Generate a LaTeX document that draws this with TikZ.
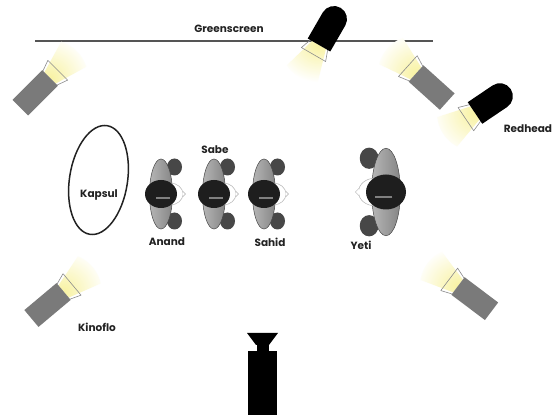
\documentclass[tikz,border=0pt]{standalone}
\usepackage{fontspec}
\setmainfont{Poppins}
\definecolor{Ink}{HTML}{222222}
\definecolor{Screen}{HTML}{555555}
\definecolor{Kino}{HTML}{7A7A7A}
\definecolor{Glow}{HTML}{F8F2A2}
\definecolor{Door}{HTML}{8C8C8C}
\definecolor{Hair}{HTML}{1E1E1E}
\definecolor{Arm}{HTML}{474747}
\definecolor{Coat}{HTML}{858585}

% beam and barn doors of a lamp, light leaving along +x
\newcommand{\lampdoors}{%
  \begin{scope}
    \clip (0,-8) -- (38,-19) -- (38,19) -- (0,8) -- cycle;
    \shade[inner color=Glow,outer color=white] (0,0) circle (38);
  \end{scope}
  \draw[Door,line width=.6pt,line join=round] (0,10) -- (11,14) -- (11,-14) -- (0,-10);
}

\begin{document}
\begin{tikzpicture}[x=1pt,y=1pt,font=\fontsize{10.5}{12}\selectfont\bfseries]
  \tikzset{
    lbl/.style={text=Ink,inner sep=0pt},
    kinoflo/.pic={
      \lampdoors
      \fill[Kino] (-42,-11) rectangle (0,11);
    },
    redhead/.pic={
      \lampdoors
      \fill[black] (0,-13) -- (0,13) -- (-30,13) arc[start angle=90,end angle=270,radius=13] -- cycle;
    },
    talent/.pic={
      \fill[Arm] (13.5,27) ellipse[x radius=7.5,y radius=8.5];
      \fill[Arm] (13.5,-27) ellipse[x radius=7.5,y radius=8.5];
      \shadedraw[left color=Coat!60,right color=Coat,draw=Arm,line width=.5pt] (0,0) ellipse[x radius=11.5,y radius=35];
      \filldraw[fill=white,draw=gray!60,line width=.5pt] (9,0) ellipse[x radius=13,y radius=11];
      \filldraw[fill=white,draw=gray!60,line width=.5pt] (21.5,3) -- (24.5,0) -- (21.5,-3);
      \fill[Hair] (0,0) ellipse[x radius=16,y radius=14];
      \draw[gray,line width=1.2pt] (-5,-4) -- (9,-4);
    }
  }
  \fill[white] (0,0) rectangle (555,415);
  \useasboundingbox (0,0) rectangle (555,415);

  \draw[Screen,line width=2pt] (35,374) -- (433,374);
  \node[lbl] (screen) at (229,386) {Greenscreen};

  \pic[rotate=45] at (50,337) {kinoflo};
  \pic[rotate=138] at (416,341.5) {kinoflo};
  \pic[rotate=40] at (63.6,123.5) {kinoflo};
  \pic[rotate=143] at (458,129) {kinoflo};
  \pic[rotate=240] at (319,370) {redhead};
  \pic[rotate=214] at (475,302) {redhead};

  \draw[Ink,line width=1.5pt,rotate around={-9:(98.5,235)}] (98.5,235) ellipse[x radius=29,y radius=55];
  \node[lbl] (kapsul) at (99,220) {Kapsul};

  \pic at (161,221) {talent};
  \pic at (214,221) {talent};
  \pic at (264,221) {talent};
  \pic[xscale=-1.25,yscale=1.25] at (386,223) {talent};

  \fill[black] (248,0) rectangle (277,64);
  \fill[black] (256.5,63) rectangle (268.5,71);
  \fill[black] (256,70) -- (269,70) -- (278,82) -- (247,82) -- cycle;

  \node[lbl] (redhead) at (528,286) {Redhead};
  \node[lbl] (sabe) at (215,265) {Sabe};
  \node[lbl] (anand) at (167,173) {Anand};
  \node[lbl] (sahid) at (270,173) {Sahid};
  \node[lbl] (yeti) at (361,170) {Yeti};
  \node[lbl] (kinoflo) at (97,88) {Kinoflo};
\end{tikzpicture}
\end{document}
